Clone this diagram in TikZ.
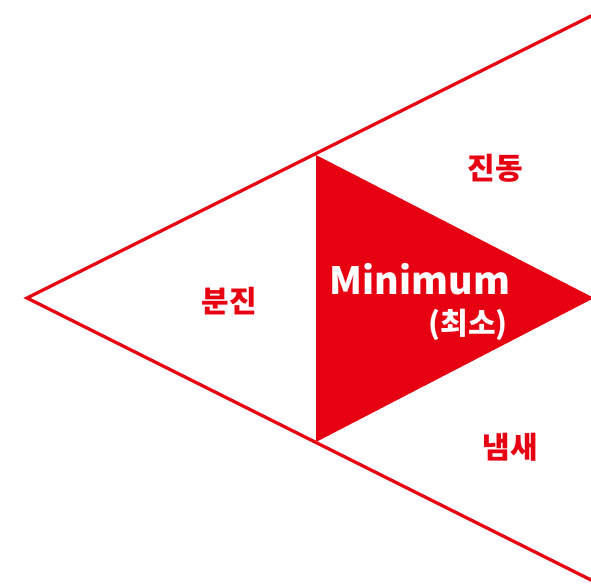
\documentclass[tikz,border=0pt]{standalone}
\usepackage{fontspec}
\newfontfamily\kr{Noto Sans CJK KR}
\definecolor{kred}{HTML}{E60012}
\begin{document}
\begin{tikzpicture}[x=1pt,y=-1pt,
  lbl/.style={font=\kr\bfseries\fontsize{30}{30}\selectfont, text=kred, inner sep=0pt},
  wlbl/.style={font=\kr\bfseries, text=white, inner sep=0pt}]
\useasboundingbox (0,0) rectangle (591,583);
\coordinate (apex) at (27,298);
\coordinate (top) at (600,11.5);
\coordinate (bot) at (600,584.5);
\coordinate (t1) at (316,155);
\coordinate (t2) at (316,442);
\coordinate (t3) at (594,298);
\fill[kred] (t1) -- (t3) -- (t2) -- cycle;
\draw[kred, line width=3.3pt, line join=miter] (top) -- (apex) -- (bot);
\node[lbl] (jindong) at (495,168) {진동};
\node[lbl] (bunjin) at (229,301) {분진};
\node[lbl] (naemsae) at (510,447) {냄새};
\node[wlbl, font=\kr\bfseries\fontsize{37.5}{37.5}\selectfont] (min) at (420,279) {Minimum};
\node[wlbl, font=\kr\bfseries\fontsize{30}{30}\selectfont] (choe) at (468,325) {(최소)};
\end{tikzpicture}
\end{document}
